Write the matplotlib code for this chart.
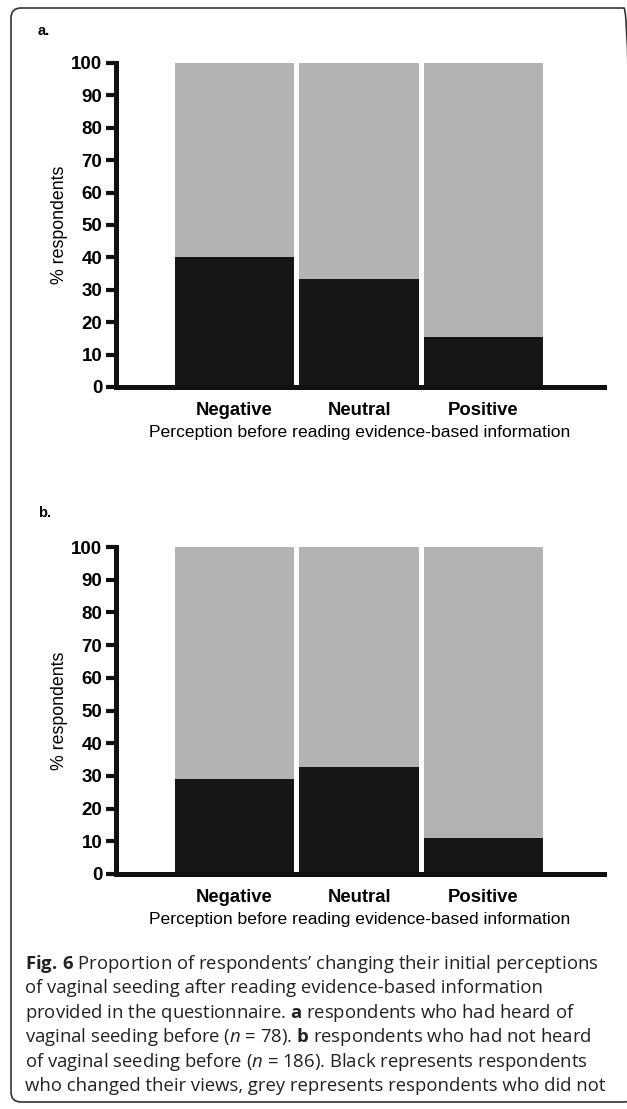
import numpy as np
import matplotlib
matplotlib.use("Agg")
from matplotlib import pyplot as plt
from matplotlib.patches import FancyBboxPatch

# data (% of respondents)
categories = ["Negative", "Neutral", "Positive"]
changed_a = [40.0, 33.3, 15.5]   # heard of vaginal seeding before
changed_b = [29.0, 32.7, 11.0]   # had not heard of it before
yticks = list(range(0, 101, 10))

caption_lines = [
    r"$\mathbf{Fig.\,6}$ Proportion of respondents’ changing their initial perceptions",
    "of vaginal seeding after reading evidence-based information",
    r"provided in the questionnaire. $\mathbf{a}$ respondents who had heard of",
    r"vaginal seeding before ($\mathit{n}$ = 78). $\mathbf{b}$ respondents who had not heard",
    r"of vaginal seeding before ($\mathit{n}$ = 186). Black represents respondents",
    "who changed their views, grey represents respondents who did not",
]

W, H = 627, 1109
plt.rcParams['font.family'] = ['Liberation Sans', 'DejaVu Sans']
plt.rcParams['mathtext.fontset'] = 'custom'
plt.rcParams['mathtext.rm'] = 'Open Sans'
plt.rcParams['mathtext.bf'] = 'Open Sans:bold'
plt.rcParams['mathtext.it'] = 'Open Sans:italic'

fig = plt.figure(figsize=(W / 100, H / 100), dpi=100)

def px(x0, y_top, x1, y_bot):
    # pixel box -> figure fraction rect
    return [x0 / W, 1 - y_bot / H, (x1 - x0) / W, (y_bot - y_top) / H]

grey = "#b3b3b3"
black = "#161616"

def panel(rect, changed, letter, letter_y):
    ax = fig.add_axes(rect)
    x = np.arange(len(categories))
    changed = np.array(changed)
    ax.bar(x, 100 - changed, bottom=changed, width=0.956, color=grey, zorder=1)
    ax.bar(x, changed, width=0.956, color=black, zorder=1)
    ax.set_xlim(-0.952, 2.968)
    ax.set_ylim(0, 100)
    for s in ["top", "right"]:
        ax.spines[s].set_visible(False)
    for s in ["left", "bottom"]:
        ax.spines[s].set_linewidth(3.6)
        ax.spines[s].set_color("#111111")
        ax.spines[s].set_zorder(3)
        ax.spines[s].set_capstyle("projecting")
    ax.set_yticks(yticks)
    ax.tick_params(axis="y", length=7, width=3, pad=2.8, labelsize=13.5,
                   color="#111111")
    for t in ax.get_yticklabels():
        t.set_fontweight("bold")
    ax.set_xticks(x)
    ax.set_xticklabels(categories, fontsize=13.3, fontweight="bold")
    ax.tick_params(axis="x", length=0, pad=11)
    ax.set_xlabel("Perception before reading evidence-based information",
                  fontsize=12.6, labelpad=4)
    ax.set_ylabel("% respondents", fontsize=12.8)
    ax.yaxis.set_label_coords(-0.098, 0.5)
    fig.text(38 / W, 1 - letter_y / H, letter, fontsize=10.5, fontweight="bold",
             va="center", ha="left")
    return ax

panel(px(116, 63, 604, 387), changed_a, "a.", 31)
panel(px(116, 547, 604, 874), changed_b, "b.", 513)

# caption
y0 = 969
for i, line in enumerate(caption_lines):
    fig.text(25 / W, 1 - (y0 + i * 24.4) / H, line, fontsize=13.3,
             family="Open Sans", color="#222222", va="baseline", ha="left")

# rounded frame around the whole figure
frame = FancyBboxPatch((11 / W, 1 - 1102 / H), (634 - 11) / W, (1102 - 8) / H,
                       boxstyle="round,pad=0,rounding_size=0.016",
                       transform=fig.transFigure, fill=False,
                       edgecolor="#333333", linewidth=1.2, mutation_aspect=W / H)
fig.patches.append(frame)

fig.savefig("out.png", dpi=100)
